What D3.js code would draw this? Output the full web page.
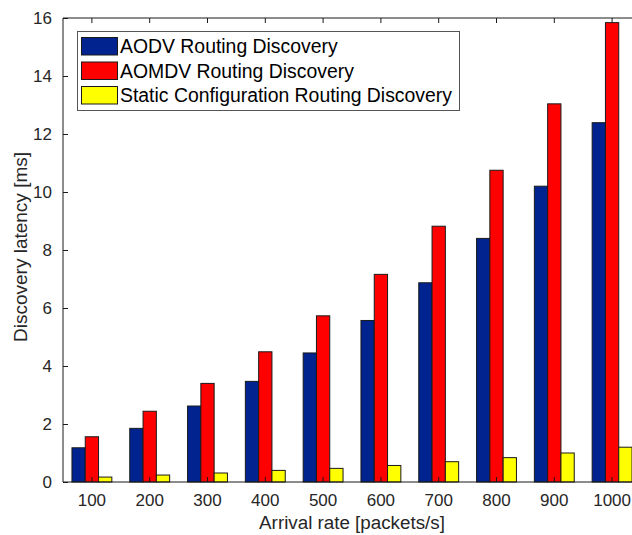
<!DOCTYPE html>
<html>
<head>
<meta charset="utf-8">
<script src="https://d3js.org/d3.v7.min.js"></script>
<style>
    body { margin: 0; background: #fff; }
    text { font-family: Arial, "Liberation Sans", sans-serif; }
</style>
</head>
<body>
<svg id="chart" width="632" height="535"></svg>
<script>
    // data
    const rates = ["100", "200", "300", "400", "500", "600", "700", "800", "900", "1000"]
    const seriesNames = ["AODV Routing Discovery", "AOMDV Routing Discovery", "Static Configuration Routing Discovery"]
    const aodv   = [1.18, 1.85, 2.62, 3.47, 4.45, 5.57, 6.87, 8.40, 10.20, 12.39]
    const aomdv  = [1.56, 2.44, 3.40, 4.49, 5.73, 7.16, 8.82, 10.75, 13.04, 15.84]
    const staticCfg = [0.17, 0.24, 0.31, 0.40, 0.47, 0.57, 0.70, 0.84, 1.00, 1.20]
    const colors = ["#00238f", "#ff0000", "#ffff00"]
    const yTicks = [0, 2, 4, 6, 8, 10, 12, 14, 16]

    const allSeries = [aodv, aomdv, staticCfg]

    // plot box (right edge runs past the window, like the original)
    const plotLeft = 63, plotTop = 18, plotBottom = 482, plotRight = 641

    let svg = d3.select("#chart")

    let x = d3.scaleBand()
        .domain(rates)
        .range([plotLeft, plotRight])
        .paddingInner(0)
        .paddingOuter(0)

    let bw = x.step() * 0.23
    let xSub = d3.scaleBand()
        .domain(d3.range(seriesNames.length))
        .range([-1.5 * bw, 1.5 * bw])

    let y = d3.scaleLinear()
        .domain([0, 16])
        .range([plotBottom, plotTop])

    // bars
    let groups = svg.append("g")
        .selectAll("g")
        .data(rates)
        .join("g")
        .attr("transform", d => "translate(" + (x(d) + x.bandwidth() / 2) + ",0)")

    groups.selectAll("rect")
        .data((d, i) => allSeries.map((s, k) => ({k: k, v: s[i]})))
        .join("rect")
        .attr("x", d => xSub(d.k))
        .attr("width", xSub.bandwidth())
        .attr("y", d => y(d.v))
        .attr("height", d => y(0) - y(d.v))
        .attr("fill", d => colors[d.k])
        .attr("stroke", "#1a1a1a")
        .attr("stroke-width", 1)

    // axes: bottom, top, left, ticks pointing inward
    let gx = svg.append("g")
        .attr("transform", "translate(0," + plotBottom + ")")
        .call(d3.axisBottom(x).tickSizeInner(-5).tickSizeOuter(0).tickPadding(12))
    gx.selectAll("text").attr("font-size", "17px").attr("fill", "#262626")

    let gxTop = svg.append("g")
        .attr("transform", "translate(0," + plotTop + ")")
        .call(d3.axisTop(x).tickSizeInner(-5).tickSizeOuter(0).tickFormat(""))

    let gy = svg.append("g")
        .attr("transform", "translate(" + plotLeft + ",0)")
        .call(d3.axisLeft(y).tickValues(yTicks).tickSizeInner(-5).tickSizeOuter(0).tickPadding(11))
    gy.selectAll("text").attr("font-size", "17px").attr("fill", "#262626")

    svg.selectAll(".domain").attr("stroke", "#1a1a1a")
    svg.selectAll(".tick line").attr("stroke", "#1a1a1a")
    gx.select(".domain").attr("d", "M" + plotLeft + ",0H" + plotRight)
    gxTop.select(".domain").attr("d", "M" + plotLeft + ",0H" + plotRight)
    gy.select(".domain").attr("d", "M0," + plotTop + "V" + plotBottom)

    // axis labels
    svg.append("text")
        .attr("x", x("500") + x.step())
        .attr("y", 529)
        .attr("text-anchor", "middle")
        .attr("font-size", "18.8px")
        .attr("fill", "#262626")
        .text("Arrival rate [packets/s]")

    svg.append("text")
        .attr("transform", "translate(27," + ((plotTop + plotBottom) / 2 - 3) + ") rotate(-90)")
        .attr("text-anchor", "middle")
        .attr("font-size", "19px")
        .attr("fill", "#262626")
        .text("Discovery latency [ms]")

    // legend
    let legend = svg.append("g").attr("transform", "translate(77,31)")
    legend.append("rect")
        .attr("x", 0.5).attr("y", 0.5)
        .attr("width", 382).attr("height", 79)
        .attr("fill", "#fff")
        .attr("stroke", "#555")

    let items = legend.selectAll("g.item")
        .data(seriesNames)
        .join("g")
        .attr("class", "item")
        .attr("transform", (d, i) => "translate(0," + (6 + i * 24.5) + ")")

    items.append("rect")
        .attr("x", 4.5).attr("y", 0.5)
        .attr("width", 36).attr("height", 17.5)
        .attr("fill", (d, i) => colors[i])
        .attr("stroke", "#1a1a1a")

    items.append("text")
        .attr("x", 43)
        .attr("y", 16)
        .attr("font-size", "19.4px")
        .attr("fill", "#000")
        .text(d => d)
</script>
</body>
</html>
